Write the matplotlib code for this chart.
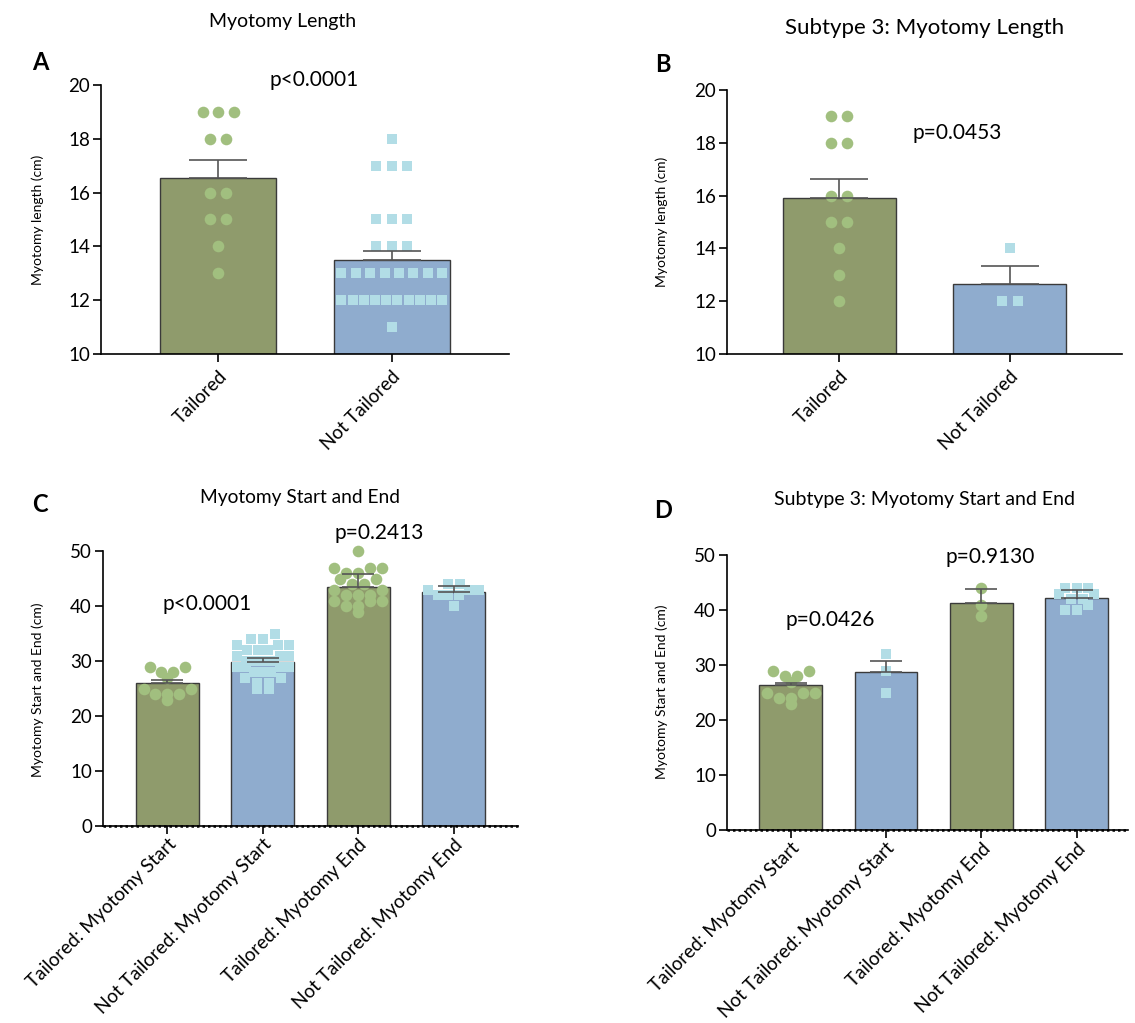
import numpy as np
import matplotlib.pyplot as plt

plt.rcParams['font.family'] = ['Lato', 'DejaVu Sans']

W, H = 1135, 1023

# A: myotomy length, all patients
groups_len = ['Tailored', 'Not Tailored']
lenA_tail = [19, 19, 19, 18, 18, 16, 16, 15, 15, 14, 13]
lenA_not = [18, 17, 17, 17, 15, 15, 15, 14, 14, 14,
            13, 13, 13, 13, 13, 13, 13, 13,
            12, 12, 12, 12, 12, 12, 12, 12, 12, 12, 11]
lenA_mean = [16.55, 13.48]
lenA_sem = [0.65, 0.36]

# B: myotomy length, subtype 3
lenB_tail = [19, 19, 18, 18, 16, 16, 15, 15, 14, 13, 12]
lenB_not = [14, 12, 12]
lenB_mean = [15.9, 12.65]
lenB_sem = [0.72, 0.68]

# C: start and end, all patients
groups_se = ['Tailored: Myotomy Start', 'Not Tailored: Myotomy Start',
             'Tailored: Myotomy End', 'Not Tailored: Myotomy End']
C_tail_start = [29, 29, 28, 28, 27, 25, 25, 24, 24, 24, 23]
C_not_start = [35, 34, 34, 33, 33, 33, 32, 32, 32, 31, 31, 31, 30, 30, 30, 30,
               29, 29, 29, 29, 28, 28, 28, 27, 27, 26, 26, 25, 25]
C_tail_end = [50, 47, 47, 47, 46, 46, 45, 45, 44, 44, 43, 43, 42, 42, 42,
              41, 41, 41, 40, 40, 39]
C_not_end = [44, 44, 43, 43, 43, 42, 42, 42, 40]
C_mean = [26.0, 29.9, 43.4, 42.5]
C_sem = [0.5, 0.6, 2.5, 1.1]

# D: start and end, subtype 3
D_tail_start = [29, 29, 28, 28, 27, 25, 25, 25, 24, 24, 23]
D_not_start = [32, 29, 25]
D_tail_end = [44, 41, 39]
D_not_end = [44, 44, 44, 43, 43, 42, 42, 41, 40, 40]
D_mean = [26.3, 28.7, 41.3, 42.2]
D_sem = [0.45, 2.1, 2.5, 1.4]

green_bar = '#8f9b6c'
blue_bar = '#8facce'
green_pt = '#a1bf7f'
blue_pt = '#b2dde6'


def swarm(vals, center, binw, step, maxhalf):
    # rows of points, centred on the bar, lowest value of a row in the middle
    vals = np.asarray(vals, float)
    xs = np.zeros(len(vals))
    bins = np.floor(vals / binw + 1e-9)
    for b in np.unique(bins):
        idx = np.where(bins == b)[0]
        idx = idx[np.argsort(vals[idx], kind='stable')]
        n = len(idx)
        s = step if n < 2 else min(step, 2 * maxhalf / (n - 1))
        offs = (np.arange(n) - (n - 1) / 2) * s
        order = np.argsort(np.abs(offs), kind='stable')
        xs[idx] = center + offs[order]
    return xs


def px_axes(l, r, t, b):
    return [l / W, 1 - b / H, (r - l) / W, (b - t) / H]


def panel(rect, labels, means, sems, pts, colors, ptcol, marks, xlim, ylim,
          yticks, width, binw, step, maxhalf, cap, base, xfs, xpad):
    ax = fig.add_axes(rect)
    x = np.arange(len(labels))
    ax.bar(x, np.array(means) - base, width, bottom=base, color=colors,
           edgecolor='#3a3a3a', linewidth=1.0, zorder=1)
    for i in range(len(labels)):
        xs = swarm(pts[i], i, binw, step, maxhalf)
        size = 70 if marks[i] == 'o' else 58
        ax.scatter(xs, pts[i], s=size, marker=marks[i], color=ptcol[i],
                   linewidths=0, zorder=3, clip_on=False)
        ax.errorbar(i, means[i], yerr=[[0], [sems[i]]], color='#555555',
                    lw=1.2, capsize=cap, capthick=1.2, zorder=4)
    ax.set_xlim(*xlim)
    ax.set_ylim(*ylim)
    ax.set_yticks(yticks)
    ax.set_xticks(x)
    ax.set_xticklabels(labels, rotation=45, ha='right', rotation_mode='anchor',
                       fontsize=xfs)
    for s in ['top', 'right']:
        ax.spines[s].set_visible(False)
    for s in ['left', 'bottom']:
        ax.spines[s].set_linewidth(1.2)
    ax.tick_params(axis='y', length=6, width=1.2, labelsize=13.5, pad=2)
    ax.tick_params(axis='x', length=6, width=1.2, pad=xpad)
    return ax


fig = plt.figure(figsize=(W / 100, H / 100), dpi=100)

axA = panel(px_axes(101, 509, 85, 354), groups_len, lenA_mean, lenA_sem,
            [lenA_tail, lenA_not], [green_bar, blue_bar], [green_pt, blue_pt],
            ['o', 's'], (-0.676, 1.676), (10, 20), range(10, 21, 2),
            0.67, 0.5, 0.09, 0.29, 21, 10, 13.5, 4)
axA.text(0.55, 20.2, 'p<0.0001', ha='center', va='center', fontsize=15,
         clip_on=False)

axB = panel(px_axes(727, 1122, 90, 354), groups_len, lenB_mean, lenB_sem,
            [lenB_tail, lenB_not], [green_bar, blue_bar], [green_pt, blue_pt],
            ['o', 's'], (-0.66, 1.66), (10, 20), range(10, 21, 2),
            0.665, 0.5, 0.093, 0.29, 21, 10, 13.5, 4)
axB.text(0.69, 18.37, 'p=0.0453', ha='center', va='center', fontsize=15)

axC = panel(px_axes(103, 518, 551, 826), groups_se, C_mean, C_sem,
            [C_tail_start, C_not_start, C_tail_end, C_not_end],
            [green_bar, blue_bar] * 2, [green_pt, blue_pt] * 2,
            ['o', 's'] * 2, (-0.675, 3.675), (0, 50), range(0, 51, 10),
            0.66, 2, 0.125, 0.27, 11.5, 0, 13.6, 1)
axC.axhline(0, color='k', lw=1.8, ls=(0, (1, 1.2)), zorder=5, clip_on=False)
axC.text(0.42, 40.4, 'p<0.0001', ha='center', va='center', fontsize=15)
axC.text(2.22, 53.3, 'p=0.2413', ha='center', va='center', fontsize=15,
         clip_on=False)

axD = panel(px_axes(727, 1128, 555, 830), groups_se, D_mean, D_sem,
            [D_tail_start, D_not_start, D_tail_end, D_not_end],
            [green_bar, blue_bar] * 2, [green_pt, blue_pt] * 2,
            ['o', 's'] * 2, (-0.67, 3.54), (0, 50), range(0, 51, 10),
            0.66, 2, 0.125, 0.27, 11.5, 0, 13.6, 1)
axD.axhline(0, color='k', lw=1.8, ls=(0, (1, 1.2)), zorder=5, clip_on=False)
axD.text(0.41, 38.2, 'p=0.0426', ha='center', va='center', fontsize=15)
axD.text(2.09, 49.6, 'p=0.9130', ha='center', va='center', fontsize=15,
         clip_on=False)

# titles, panel letters, y labels
for txt, xp, yp, fs in [('Myotomy Length', 283, 22, 14),
                        ('Subtype 3: Myotomy Length', 925, 28, 16),
                        ('Myotomy Start and End', 300, 497, 13.8),
                        ('Subtype 3: Myotomy Start and End', 925, 500, 14)]:
    fig.text(xp / W, 1 - yp / H, txt, ha='center', va='center', fontsize=fs)

for txt, xp, yp in [('A', 40, 62), ('B', 663, 65), ('C', 40, 505), ('D', 663, 510)]:
    fig.text(xp / W, 1 - yp / H, txt, ha='center', va='center', fontsize=17,
             fontweight='bold')

for txt, xp, yp in [('Myotomy length (cm)', 38, 220),
                    ('Myotomy length (cm)', 662, 222),
                    ('Myotomy Start and End (cm)', 38, 690),
                    ('Myotomy Start and End (cm)', 662, 692)]:
    fig.text(xp / W, 1 - yp / H, txt, ha='center', va='center', fontsize=10,
             rotation=90)

fig.savefig('out.png', dpi=100)
